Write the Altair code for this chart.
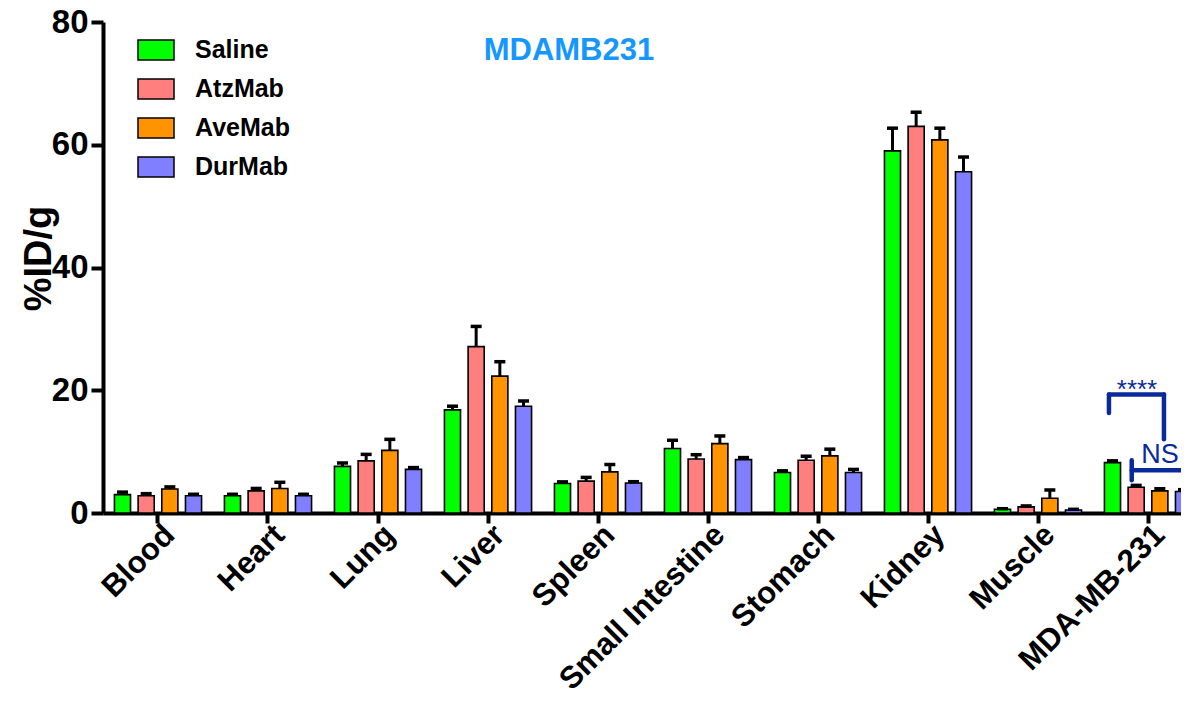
import altair as alt
import pandas as pd

categories = ["Blood", "Heart", "Lung", "Liver", "Spleen", "Small Intestine",
              "Stomach", "Kidney", "Muscle", "MDA-MB-231"]
groups = ["Saline", "AtzMab", "AveMab", "DurMab"]
colors = ["#00FF00", "#FF7F7F", "#FF9400", "#7F7FFF"]

saline = [3.0, 2.8, 7.6, 16.8, 4.8, 10.5, 6.6, 59.0, 0.6, 8.2]
saline_err = [0.4, 0.25, 0.55, 0.6, 0.27, 1.35, 0.27, 3.7, 0.1, 0.3]
atzmab = [2.8, 3.6, 8.5, 27.1, 5.2, 8.8, 8.6, 63.0, 1.0, 4.2]
atzmab_err = [0.35, 0.4, 1.05, 3.3, 0.6, 0.7, 0.65, 2.3, 0.15, 0.3]
avemab = [3.9, 4.0, 10.2, 22.3, 6.7, 11.3, 9.3, 60.8, 2.4, 3.6]
avemab_err = [0.35, 1.0, 1.8, 2.35, 1.2, 1.25, 1.1, 1.9, 1.35, 0.35]
durmab = [2.8, 2.8, 7.1, 17.4, 4.9, 8.7, 6.6, 55.6, 0.5, 3.5]
durmab_err = [0.25, 0.25, 0.3, 0.85, 0.2, 0.33, 0.5, 2.4, 0.1, 0.3]

# significance annotation (x in category-index units, y in %ID/g)
ann_x = [9.145, 9.145, 9.645, 9.352, 9.352]
ann_x2 = [9.145, 9.645, 9.645, 9.352, 10.4]
ann_y = [16.3, 19.3, 19.3, 5.35, 6.96]
ann_y2 = [19.3, 19.3, 12.0, 8.6, 6.96]
ann_labels = ["****", "NS"]
ann_label_x = [9.40, 9.61]
ann_label_y = [18.7, 8.1]
ann_label_size = [26, 27]

chart_title = "MDAMB231"
title_x = [4.236]
title_y = [75.2]

FONT = "Liberation Sans"
NAVY = "#0A2A9C"

rows = []
for name, vals, errs in [("Saline", saline, saline_err), ("AtzMab", atzmab, atzmab_err),
                         ("AveMab", avemab, avemab_err), ("DurMab", durmab, durmab_err)]:
    for c, v, e in zip(categories, vals, errs):
        rows.append({"tissue": c, "group": name, "value": v, "top": v + e})
df = pd.DataFrame(rows)

yscale = alt.Scale(domain=[0, 80], nice=False, zero=True)
yaxis = alt.Axis(values=[0, 20, 40, 60, 80], grid=False, domainWidth=4, domainColor="black",
                 tickWidth=4, tickSize=12, tickColor="black",
                 labelFont=FONT, labelFontSize=33, labelFontWeight="bold", labelColor="black",
                 labelPadding=3,
                 title="%ID/g", titleFont=FONT, titleFontSize=38, titleFontWeight="bold",
                 titleColor="black", titleX=-53, titleY=236, titleAlign="center",
                 titleBaseline="alphabetic")

xscale = alt.Scale(domain=categories, range=[0, 1100], paddingInner=0.139, paddingOuter=0.0695)
xaxis = alt.Axis(title=None, domainWidth=4, domainColor="black", tickWidth=4, tickSize=10,
                 tickColor="black", labelAngle=315, labelAlign="right", labelBaseline="middle",
                 labelFont=FONT, labelFontSize=31, labelFontWeight="bold", labelColor="black",
                 labelPadding=7, labelOffset=12, labelLimit=500, bandPosition=0.5, grid=False)
xoff = alt.XOffset("group:N", sort=groups,
                   scale=alt.Scale(domain=groups, paddingInner=0.32, paddingOuter=0.16))

base = alt.Chart(df)

bars = base.mark_bar(stroke="black", strokeWidth=1.6).encode(
    x=alt.X("tissue:N", sort=categories, scale=xscale, axis=xaxis),
    xOffset=xoff,
    y=alt.Y("value:Q", scale=yscale, axis=yaxis),
    color=alt.Color("group:N", sort=groups,
                    scale=alt.Scale(domain=groups, range=colors),
                    legend=alt.Legend(title=None, orient="none", legendX=34, legendY=9,
                                      symbolType="M-1,-0.555L1,-0.555L1,0.555L-1,0.555Z",
                                      symbolSize=1296, symbolStrokeColor="black",
                                      symbolStrokeWidth=1.5, symbolOpacity=1,
                                      labelFont=FONT, labelFontSize=25, labelFontWeight="bold",
                                      labelColor="black", labelOffset=20, rowPadding=7,
                                      padding=0)),
)

err_rule = base.mark_rule(color="black", strokeWidth=3).encode(
    x=alt.X("tissue:N", sort=categories, scale=xscale, axis=xaxis),
    xOffset=xoff,
    y=alt.Y("value:Q", scale=yscale, axis=yaxis),
    y2="top:Q",
)
err_cap = base.mark_tick(color="black", thickness=3.5, size=11, opacity=1).encode(
    x=alt.X("tissue:N", sort=categories, scale=xscale, axis=xaxis),
    xOffset=xoff,
    y=alt.Y("top:Q", scale=yscale, axis=yaxis),
)

main = alt.layer(bars, err_rule, err_cap)

oxscale = alt.Scale(domain=[0, 10], range=[0, 1100], nice=False, zero=False)

ann_df = pd.DataFrame({"x": ann_x, "x2": ann_x2, "y": ann_y, "y2": ann_y2})
ann_rules = alt.Chart(ann_df).mark_rule(color=NAVY, strokeWidth=4.5, strokeCap="round").encode(
    x=alt.X("x:Q", scale=oxscale, axis=None),
    x2="x2:Q",
    y=alt.Y("y:Q", scale=yscale, axis=yaxis),
    y2="y2:Q",
)

lab_df = pd.DataFrame({"x": ann_label_x, "y": ann_label_y, "t": ann_labels, "s": ann_label_size})
ann_text = alt.Chart(lab_df).mark_text(color=NAVY, font=FONT, baseline="alphabetic",
                                       align="center").encode(
    x=alt.X("x:Q", scale=oxscale, axis=None),
    y=alt.Y("y:Q", scale=yscale, axis=yaxis),
    text="t:N",
    size=alt.Size("s:Q", scale=None, legend=None),
)

title_df = pd.DataFrame({"x": title_x, "y": title_y, "t": [chart_title]})
title_text = alt.Chart(title_df).mark_text(color="#1597FF", font=FONT, fontSize=31,
                                           fontWeight="bold", baseline="middle",
                                           align="center").encode(
    x=alt.X("x:Q", scale=oxscale, axis=None),
    y=alt.Y("y:Q", scale=yscale, axis=yaxis),
    text="t:N",
)

overlay = alt.layer(ann_rules, ann_text, title_text)

chart = alt.layer(main, overlay).resolve_scale(x="independent").properties(
    width=1078, height=491,
    autosize=alt.AutoSizeParams(type="none"),
    padding={"left": 95, "top": 14, "right": 0, "bottom": 182},
    background="white",
    view=alt.ViewBackground(strokeWidth=0, strokeOpacity=0),
).configure_view(stroke=None, strokeWidth=0, strokeOpacity=0).configure_axis(grid=False).configure(font=FONT)

chart.save("out.html", embed_options={"renderer": "svg", "actions": False})
